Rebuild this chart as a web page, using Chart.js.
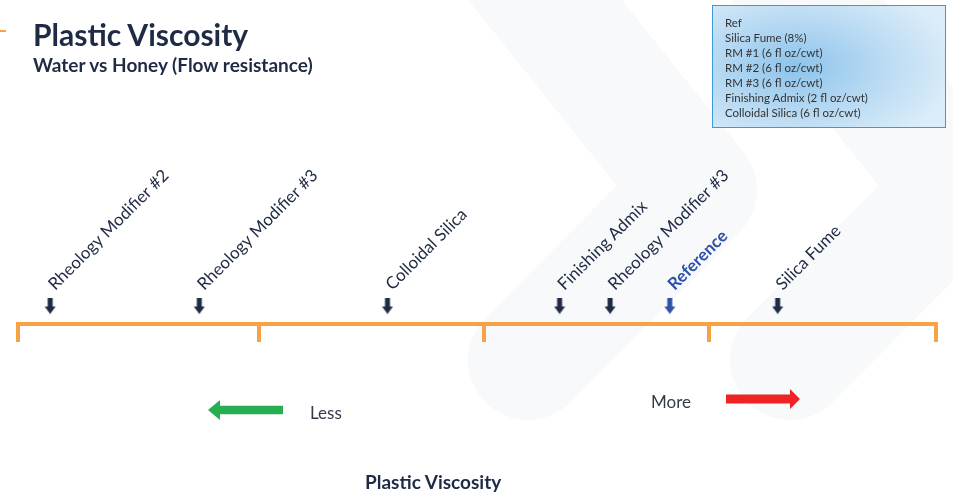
<!DOCTYPE html>
<html>
<head>
<meta charset="utf-8">
<title>Plastic Viscosity</title>
<script src="https://cdn.jsdelivr.net/npm/chart.js@4.4.0/dist/chart.umd.min.js"></script>
<style>
  html, body { margin: 0; padding: 0; background: #fff; }
  body { width: 953px; height: 494px; position: relative; overflow: hidden;
         font-family: Lato, "Open Sans", sans-serif; color: #1f2a44; }
  #viscosityChart { position: absolute; left: 0; top: 0; }
  .dash { position: absolute; left: 0; top: 30px; width: 6px; height: 2px; background: #f7a246; }
  .title { position: absolute; left: 33px; top: 19px; margin: 0; font-size: 30px; line-height: 30px; font-weight: 700; white-space: nowrap; }
  .subtitle { position: absolute; left: 33px; top: 55px; margin: 0; font-size: 19px; line-height: 19px; font-weight: 700; white-space: nowrap; }
  .key { position: absolute; left: 712px; top: 5px; width: 234px; height: 123px; box-sizing: border-box;
         border: 1.5px solid #3d9ad8; padding: 9px 0 0 12px;
         background: radial-gradient(ellipse 70% 75% at 36% 50%, #8cc3eb 0%, #b3d7f2 45%, #dcedf9 100%);
         font-size: 11.5px; line-height: 15px; color: #333; white-space: nowrap; }
  .less, .more { position: absolute; font-size: 17px; line-height: 17px; color: #333a4a; }
  .less { left: 310px; top: 404px; }
  .more { left: 651px; top: 393px; }
  .axis-title { position: absolute; left: 365px; top: 472px; font-size: 19px; line-height: 19px; font-weight: 700; white-space: nowrap; }
</style>
</head>
<body>
<canvas id="viscosityChart" width="953" height="494"></canvas>
<div class="dash"></div>
<h1 class="title">Plastic Viscosity</h1>
<h2 class="subtitle">Water vs Honey (Flow resistance)</h2>
<div class="key" id="key"></div>
<div class="less">Less</div>
<div class="more">More</div>
<div class="axis-title">Plastic Viscosity</div>

<script>
// mixes placed along the viscosity line (0 = least, 4 = most)
const markerLabels = [
  'Rheology Modifier #2',
  'Rheology Modifier #3',
  'Colloidal Silica',
  'Finishing Admix',
  'Rheology Modifier #3',
  'Reference',
  'Silica Fume'
];
const markerValues = [0.14, 0.79, 1.61, 2.36, 2.58, 2.84, 3.31];
const highlightLabel = 'Reference';

// segment stops drawn as ticks under the line
const scaleStops = [0, 1.05, 2.03, 3.01, 4];

// mix doses listed in the key box
const keyItems = [
  'Ref',
  'Silica Fume (8%)',
  'RM #1 (6 fl oz/cwt)',
  'RM #2 (6 fl oz/cwt)',
  'RM #3 (6 fl oz/cwt)',
  'Finishing Admix (2 fl oz/cwt)',
  'Colloidal Silica (6 fl oz/cwt)'
];

const ORANGE = '#f7a246';
const NAVY = '#1f2a44';
const BLUE = '#2f52a6';
const ARROW_LEVEL = 1;

document.getElementById('key').innerHTML = keyItems.map(t => `<div>${t}</div>`).join('');

// little down arrow used as the point marker
const makeArrow = (color) => {
  const c = document.createElement('canvas');
  c.width = 12;
  c.height = 17;
  const g = c.getContext('2d');
  g.fillStyle = color;
  g.fillRect(3.5, 0, 5, 10);
  g.beginPath();
  g.moveTo(0.5, 9);
  g.lineTo(11.5, 9);
  g.lineTo(6, 16.5);
  g.closePath();
  g.fill();
  return c;
};
const navyArrow = makeArrow(NAVY);
const blueArrow = makeArrow(BLUE);

// faint chevrons in the background
const chevronBg = {
  id: 'chevronBg',
  beforeDraw(chart) {
    const c = chart.ctx;
    c.save();
    c.strokeStyle = '#f8f9fb';
    c.lineWidth = 120;
    c.lineCap = 'round';
    c.lineJoin = 'round';
    [0, 262].forEach(dx => {
      c.beginPath();
      c.moveTo(497 + dx, -60);
      c.lineTo(697 + dx, 190);
      c.lineTo(528 + dx, 360);
      c.stroke();
    });
    c.restore();
  }
};

// green "less" and red "more" arrows under the line
const directionArrows = {
  id: 'directionArrows',
  afterDraw(chart) {
    const c = chart.ctx;
    c.save();
    c.fillStyle = '#27ae52';
    c.beginPath();
    c.moveTo(208, 410);
    c.lineTo(220, 400);
    c.lineTo(220, 405.7);
    c.lineTo(283, 405.7);
    c.lineTo(283, 414.3);
    c.lineTo(220, 414.3);
    c.lineTo(220, 420);
    c.closePath();
    c.fill();

    c.fillStyle = '#ee2424';
    c.beginPath();
    c.moveTo(800, 399);
    c.lineTo(790, 389);
    c.lineTo(790, 394.5);
    c.lineTo(726, 394.5);
    c.lineTo(726, 403.5);
    c.lineTo(790, 403.5);
    c.lineTo(790, 409);
    c.closePath();
    c.fill();
    c.restore();
  }
};

// slanted names above each arrow
const slantedLabels = {
  id: 'slantedLabels',
  afterDatasetsDraw(chart) {
    const c = chart.ctx;
    const meta = chart.getDatasetMeta(0);
    meta.data.forEach((pt, i) => {
      const label = markerLabels[i];
      const isRef = label === highlightLabel;
      c.save();
      c.translate(pt.x + 5, pt.y - 15);
      c.rotate(-Math.PI / 4);
      c.font = (isRef ? 'bold ' : '') + '17px Lato, "Open Sans", sans-serif';
      c.fillStyle = isRef ? BLUE : NAVY;
      c.textAlign = 'left';
      c.textBaseline = 'alphabetic';
      c.fillText(label, 0, 0);
      c.restore();
    });
  }
};

new Chart(document.getElementById('viscosityChart'), {
  type: 'scatter',
  data: {
    datasets: [{
      data: markerValues.map(v => ({ x: v, y: ARROW_LEVEL })),
      pointStyle: ctx => markerLabels[ctx.dataIndex] === highlightLabel ? blueArrow : navyArrow,
      pointRadius: 8,
      pointHoverRadius: 8
    }]
  },
  options: {
    responsive: false,
    animation: false,
    events: [],
    layout: { padding: { left: 18, right: 17, top: 108, bottom: 152 } },
    plugins: {
      legend: { display: false },
      tooltip: { enabled: false }
    },
    scales: {
      x: {
        type: 'linear',
        min: 0,
        max: 4,
        afterBuildTicks: scale => {
          scale.ticks = scaleStops.map(v => ({ value: v }));
        },
        ticks: { display: false },
        grid: {
          drawOnChartArea: false,
          drawTicks: true,
          tickLength: 18,
          color: ORANGE,
          lineWidth: 4
        },
        border: { display: true, color: ORANGE, width: 4 }
      },
      y: { display: false, min: 0, max: 12 }
    }
  },
  plugins: [chevronBg, directionArrows, slantedLabels]
});
</script>
</body>
</html>
